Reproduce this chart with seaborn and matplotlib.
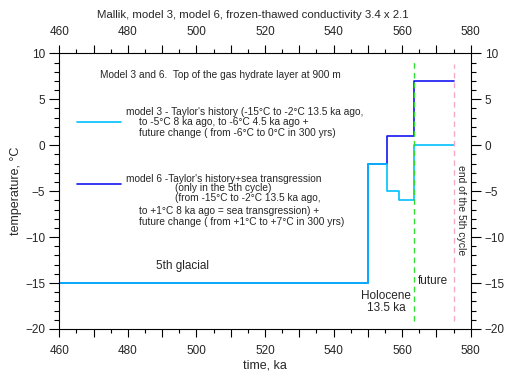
import matplotlib
matplotlib.use("Agg")
import matplotlib.pyplot as plt
import seaborn as sns
import pandas as pd
from matplotlib.ticker import MultipleLocator, FuncFormatter

# Data
model3_time = [460, 550, 555.5, 559, 563.5, 575]
model3_temp = [-15, -2, -5, -6, 0, 0]
model6_time = [460, 550, 555.5, 563.5, 575]
model6_temp = [-15, -2, 1, 7, 7]
holocene_start = 563.5
cycle_end = 575

sns.set_theme(style="ticks")
plt.rcParams['font.family'] = ['Liberation Sans', 'DejaVu Sans']

df = pd.concat([
    pd.DataFrame({"time": model6_time, "temp": model6_temp, "model": "model 6"}),
    pd.DataFrame({"time": model3_time, "temp": model3_temp, "model": "model 3"}),
])

fig = plt.figure(figsize=(5.05, 3.73), dpi=100)
ax = fig.add_axes([0.1175, 0.118, 0.8145, 0.739])

c3 = "#00C0FF"
c6 = "#1515F0"
sns.lineplot(data=df, x="time", y="temp", hue="model", palette={"model 6": c6, "model 3": c3},
             drawstyle="steps-post", linewidth=1.2, legend=False, ax=ax, sort=False)

ax.axvline(holocene_start, color="#33DD33", ls=(0, (4, 3)), lw=1.0, ymin=0.03, ymax=0.97)
ax.axvline(cycle_end, color="#F5AAC8", ls=(0, (4, 3)), lw=1.0, ymin=0.03, ymax=0.96)

ax.set_xlim(460, 580)
ax.set_ylim(-20, 10)
ax.xaxis.set_major_locator(MultipleLocator(10))
ax.xaxis.set_minor_locator(MultipleLocator(5))
ax.xaxis.set_major_formatter(FuncFormatter(lambda v, p: f"{int(v)}" if int(round(v)) % 20 == 0 else ""))
ax.yaxis.set_major_locator(MultipleLocator(5))
ax.yaxis.set_minor_locator(MultipleLocator(1))
ax.tick_params(which="both", direction="out", top=True, right=True, labeltop=True, labelright=True,
               labelsize=8.5, color="black", width=0.8)
ax.tick_params(axis="x", which="major", length=5.8, pad=5.5)
ax.tick_params(axis="x", which="minor", length=2.9)
ax.tick_params(axis="y", which="major", length=7.2, pad=3)
ax.tick_params(axis="y", which="minor", length=3.6)
for s in ax.spines.values():
    s.set_color("black")
    s.set_linewidth(0.8)

ax.set_xlabel("time, ka", fontsize=9, labelpad=2)
ax.set_ylabel("temperature, °C", fontsize=9, labelpad=2)
fig.text(0.5, 0.96, "Mallik, model 3, model 6, frozen-thawed conductivity 3.4 x 2.1",
         ha="center", va="center", fontsize=8.2)

fs = 7.3
def atext(x, y, s, **kw):
    ax.text(x, y, s, transform=ax.transAxes, fontsize=kw.pop("fontsize", fs),
            ha=kw.pop("ha", "left"), va="center", **kw)

atext(0.099, 0.921, "Model 3 and 6.  Top of the gas hydrate layer at 900 m")
ax.plot([0.044, 0.149], [0.752, 0.752], transform=ax.transAxes, color=c3, lw=1.2)
ax.plot([0.044, 0.149], [0.526, 0.526], transform=ax.transAxes, color=c6, lw=1.2)
atext(0.161, 0.788, "model 3 - Taylor's history (-15°C to -2°C 13.5 ka ago,")
atext(0.194, 0.750, "to -5°C 8 ka ago, to -6°C 4.5 ka ago +")
atext(0.194, 0.710, "future change ( from -6°C to 0°C in 300 yrs)")
atext(0.161, 0.544, "model 6 -Taylor's history+sea transgression")
atext(0.28, 0.510, "(only in the 5th cycle)")
atext(0.28, 0.475, "(from -15°C to -2°C 13.5 ka ago,")
atext(0.194, 0.428, "to +1°C 8 ka ago = sea transgression) +")
atext(0.194, 0.388, "future change ( from +1°C to +7°C in 300 yrs)")
atext(0.30, 0.2285, "5th glacial", fontsize=8.5, ha="center")
ax.text(562.6, -17.06, "Holocene\n13.5 ka", fontsize=8.5, ha="right", va="center",
        multialignment="center", linespacing=1.05)
ax.text(564.5, -14.78, "future", fontsize=8.5, ha="left", va="center")
ax.text(577.3, -7.05, "end of the 5th cycle", fontsize=7.5, ha="center", va="center", rotation=-90)

fig.savefig("out.png", dpi=100)
